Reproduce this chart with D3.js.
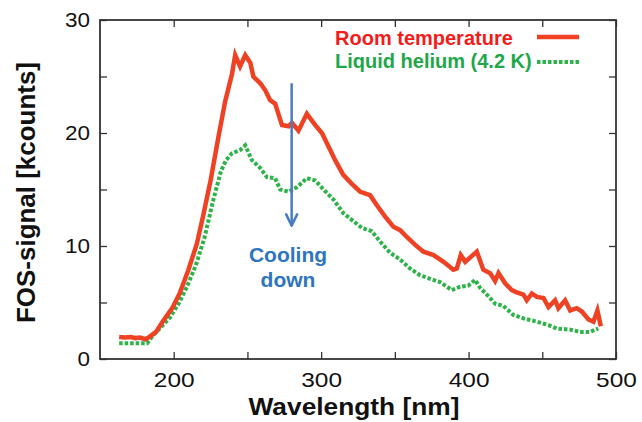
<!DOCTYPE html>
<html>
<head>
<meta charset="utf-8">
<script src="https://cdn.jsdelivr.net/npm/d3@7"></script>
<style>
  html, body { margin: 0; padding: 0; background: #fff; }
  svg { display: block; }
  text { font-family: "Liberation Sans", Arial, sans-serif; }
</style>
</head>
<body>
<svg id="chart" width="642" height="422"></svg>
<script>
// FOS signal spectra: room temperature vs. liquid helium (4.2 K)
const roomWavelength = [163, 167, 171, 174, 177, 181, 184, 188, 193, 199, 204, 210, 215.7, 220.2, 225, 230.4, 234.9, 239.5, 241.7, 245, 248.5, 252, 254, 258.7, 262, 265.4, 268.8, 273.4, 277.9, 280.2, 284.6, 290.3, 296, 300.5, 305, 309.5, 315, 320.8, 326.5, 333.2, 337.8, 343.4, 349, 353.6, 358.1, 363.8, 369.4, 376.2, 383, 389.7, 392, 394.7, 397.7, 405.6, 410, 414.6, 418, 420.3, 424.8, 429.3, 432.7, 437.2, 439.5, 442.9, 446.3, 450.8, 454.2, 458.7, 460.9, 465.5, 468.9, 473.4, 476.8, 481.3, 484.7, 487.4, 489.7];
const roomSignal = [1.95, 1.9, 1.95, 1.85, 1.9, 1.75, 2.0, 2.4, 3.4, 4.5, 5.8, 7.9, 10.2, 12.8, 15.8, 19.7, 22.8, 25.2, 26.9, 25.9, 26.9, 26.2, 25.0, 24.4, 23.8, 22.9, 22.6, 20.7, 20.6, 20.9, 20.2, 21.7, 20.7, 20.0, 18.8, 17.6, 16.3, 15.5, 14.8, 14.5, 13.6, 12.6, 11.7, 11.4, 10.8, 10.1, 9.5, 9.2, 8.6, 7.9, 8.0, 9.2, 8.6, 9.5, 7.9, 7.6, 6.9, 7.6, 6.7, 6.1, 5.9, 5.7, 5.2, 5.8, 5.5, 5.4, 4.6, 5.2, 4.5, 5.2, 4.3, 4.5, 4.2, 3.5, 3.3, 4.3, 2.9];

const heliumWavelength = [163, 167, 171, 175, 178, 182, 186, 192, 197.6, 203.3, 209, 215, 221, 226.5, 232, 235.5, 239.5, 245.1, 248.5, 253, 258.7, 263.2, 268.8, 272.2, 277.9, 283.5, 290.3, 296, 301.6, 308.4, 315.1, 321.9, 327.6, 334.4, 340, 346.8, 353.6, 360.4, 367.2, 373.9, 380.7, 388.6, 394.3, 399.9, 404.4, 407.8, 412.4, 418, 423.6, 430.4, 437.2, 446.3, 454.2, 459.8, 468.9, 475.7, 482.4, 488];
const heliumSignal = [1.4, 1.4, 1.4, 1.4, 1.4, 1.4, 2.1, 2.9, 3.7, 4.9, 6.4, 8.3, 10.8, 13.9, 16.6, 17.6, 18.2, 18.5, 18.9, 17.6, 16.9, 16.1, 16.0, 15.0, 14.8, 15.2, 16.0, 15.8, 15.0, 14.1, 12.9, 12.2, 11.6, 11.3, 10.4, 9.4, 8.8, 8.0, 7.4, 7.1, 6.8, 6.1, 6.4, 6.5, 7.0, 6.3, 5.7, 4.9, 4.7, 3.9, 3.6, 3.3, 3.0, 2.7, 2.6, 2.4, 2.4, 2.7];

const xTicks = [200, 250, 300, 350, 400, 450, 500];
const yTicks = [0, 5, 10, 15, 20, 25, 30];
const seriesNames = ["Room temperature", "Liquid helium (4.2 K)"];

const frame = { left: 100, right: 616, top: 20, bottom: 359 };
const svg = d3.select("#chart");

const x = d3.scaleLinear().domain([150, 500]).range([frame.left, frame.right]);
const y = d3.scaleLinear().domain([0, 30]).range([frame.bottom, frame.top]);

const axisColor = "#333";
const roomColor = "#ef4123";
const heliumColor = "#2db34a";

// Axes: inward ticks on all four sides, labels on bottom and left
const gx = svg.append("g")
  .attr("transform", `translate(0,${frame.bottom})`)
  .call(d3.axisBottom(x).tickValues(xTicks).tickSize(-7).tickSizeOuter(0).tickPadding(13)
    .tickFormat(d => d % 100 === 0 ? d : ""));
const gxTop = svg.append("g")
  .attr("transform", `translate(0,${frame.top})`)
  .call(d3.axisTop(x).tickValues(xTicks).tickSize(-7).tickSizeOuter(0).tickFormat(""));
const gy = svg.append("g")
  .attr("transform", `translate(${frame.left},0)`)
  .call(d3.axisLeft(y).tickValues(yTicks).tickSize(-7).tickSizeOuter(0).tickPadding(10)
    .tickFormat(d => d % 10 === 0 ? d : ""));
const gyRight = svg.append("g")
  .attr("transform", `translate(${frame.right},0)`)
  .call(d3.axisRight(y).tickValues(yTicks).tickSize(-7).tickSizeOuter(0).tickFormat(""));

[gx, gxTop, gy, gyRight].forEach(g => {
  g.select(".domain").remove();
  g.selectAll(".tick line").attr("stroke", axisColor).attr("stroke-width", 1.3);
  g.selectAll("text")
    .attr("fill", "#111")
    .style("font-size", "21px")
    .style("font-family", "'Liberation Sans', Arial, sans-serif");
});
gx.selectAll(".tick text").filter(function () { return this.textContent !== ""; })
  .attr("textLength", function () { return this.textContent.length * 13.6; })
  .attr("lengthAdjust", "spacingAndGlyphs");
gy.selectAll(".tick text").filter(function () { return this.textContent !== ""; })
  .attr("textLength", function () { return this.textContent.length * 12.5; })
  .attr("lengthAdjust", "spacingAndGlyphs");

// Plot frame
svg.append("rect")
  .attr("x", frame.left).attr("y", frame.top)
  .attr("width", frame.right - frame.left).attr("height", frame.bottom - frame.top)
  .attr("fill", "none").attr("stroke", axisColor).attr("stroke-width", 1.8);

// Axis titles
svg.append("text")
  .attr("x", 354).attr("y", 415)
  .attr("text-anchor", "middle")
  .attr("textLength", 211).attr("lengthAdjust", "spacingAndGlyphs")
  .style("font-size", "23px").style("font-weight", "bold").attr("fill", "#111")
  .text("Wavelength [nm]");
svg.append("text")
  .attr("transform", `translate(35,${(frame.top + frame.bottom) / 2 + 3}) rotate(-90)`)
  .attr("text-anchor", "middle")
  .attr("textLength", 261).attr("lengthAdjust", "spacingAndGlyphs")
  .style("font-size", "25px").style("font-weight", "bold").attr("fill", "#111")
  .text("FOS-signal [kcounts]");

// Spectra
const line = d3.line().x(d => x(d[0])).y(d => y(d[1]));
const roomData = roomWavelength.map((w, i) => [w, roomSignal[i]]);
const heliumData = heliumWavelength.map((w, i) => [w, heliumSignal[i]]);

svg.append("path").datum(heliumData)
  .attr("d", line).attr("fill", "none")
  .attr("stroke", heliumColor).attr("stroke-width", 4)
  .attr("stroke-dasharray", "3.5,2");
svg.append("path").datum(roomData)
  .attr("d", line).attr("fill", "none")
  .attr("stroke", roomColor).attr("stroke-width", 4.5)
  .attr("stroke-linejoin", "miter");

// Legend
const legend = svg.append("g");
legend.append("text").attr("x", 335).attr("y", 45)
  .style("font-size", "20px").style("font-weight", "bold").attr("fill", "#f51b1b")
  .text(seriesNames[0]);
legend.append("line").attr("x1", 537).attr("x2", 579).attr("y1", 37).attr("y2", 37)
  .attr("stroke", roomColor).attr("stroke-width", 4.5);
legend.append("text").attr("x", 335).attr("y", 68)
  .style("font-size", "20px").style("font-weight", "bold").attr("fill", "#1fa84a")
  .text(seriesNames[1]);
legend.append("line").attr("x1", 537).attr("x2", 579).attr("y1", 62).attr("y2", 62)
  .attr("stroke", heliumColor).attr("stroke-width", 4)
  .attr("stroke-dasharray", "3.5,2");

// Annotation arrow: cooling down
const arrowX = x(280);
const arrowColor = "#4a7cc0";
const ann = svg.append("g");
ann.append("line").attr("x1", arrowX).attr("x2", arrowX)
  .attr("y1", y(24.4)).attr("y2", y(11.8))
  .attr("stroke", arrowColor).attr("stroke-width", 2.5);
ann.append("path")
  .attr("d", `M${arrowX - 5.5},${y(12.8)} L${arrowX},${y(11.8)} L${arrowX + 5.5},${y(12.8)}`)
  .attr("fill", "none").attr("stroke", arrowColor).attr("stroke-width", 2.5)
  .attr("stroke-linecap", "round").attr("stroke-linejoin", "round");
ann.append("text").attr("x", 288).attr("y", 262)
  .attr("text-anchor", "middle")
  .style("font-size", "21px").style("font-weight", "bold").attr("fill", "#2e75c0")
  .text("Cooling");
ann.append("text").attr("x", 288).attr("y", 287)
  .attr("text-anchor", "middle")
  .style("font-size", "21px").style("font-weight", "bold").attr("fill", "#2e75c0")
  .text("down");
</script>
</body>
</html>
